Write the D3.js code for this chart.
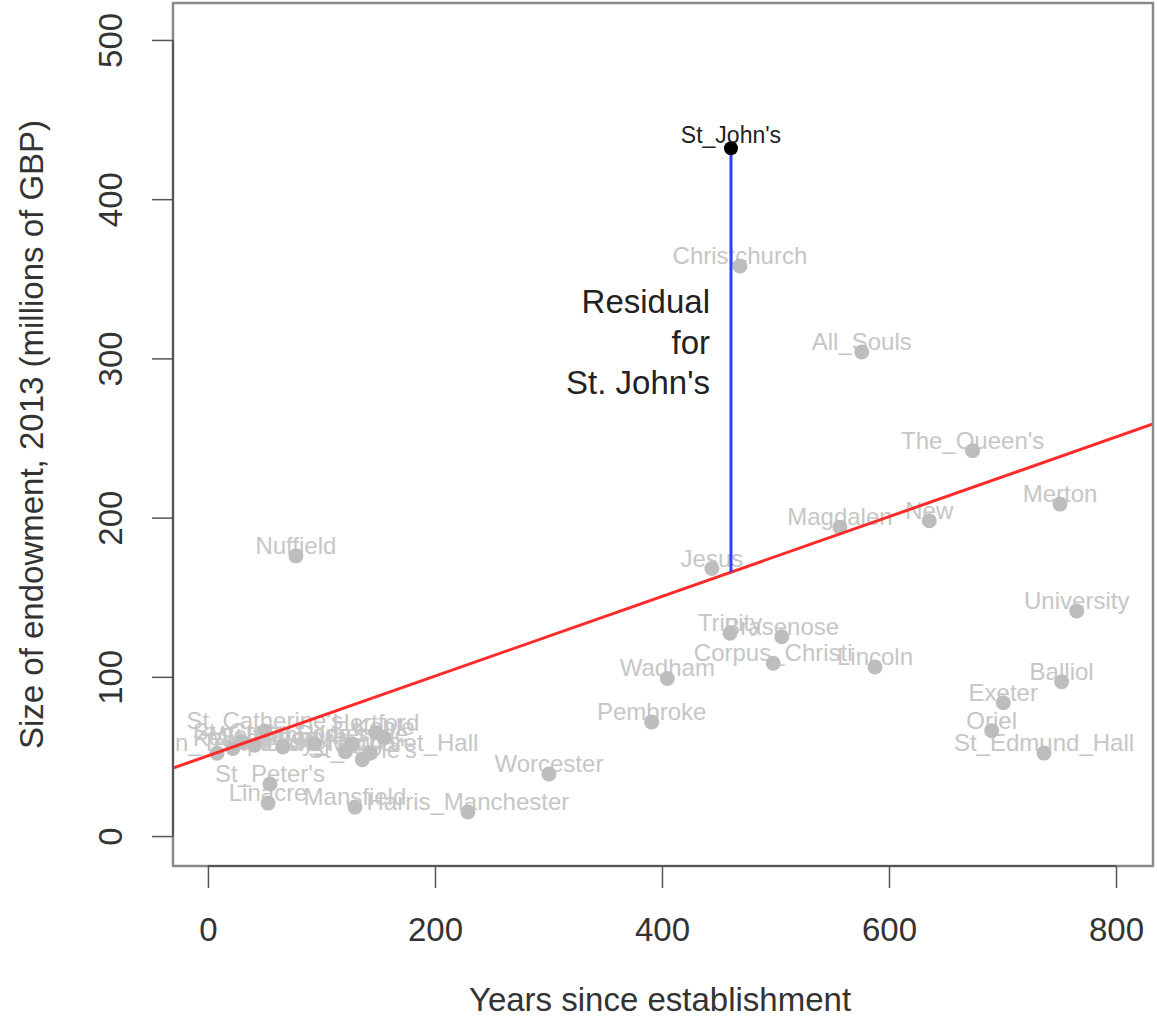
<!DOCTYPE html>
<html><head><meta charset="utf-8">
<script src="https://cdn.jsdelivr.net/npm/d3@7"></script>
<style>
body{margin:0;background:#fff}
text{font-family:"Liberation Sans",Arial,Helvetica,sans-serif}
</style>
</head><body>
<svg id="chart" width="1157" height="1025"></svg>
<script>
// ---- data ----
const colleges = ["Christchurch","All_Souls","The_Queen's","Merton","Magdalen","New","Jesus","Nuffield",
  "University","Trinity","Brasenose","Corpus_Christi","Lincoln","Wadham","Balliol","Exeter","Pembroke",
  "Oriel","St_Edmund_Hall","Worcester","Harris_Manchester","Mansfield","Linacre","St_Peter's",
  "Green_Templeton","Kellogg","St_Cross","Wolfson","St_Catherine's","St_Antony's","St_Hilda's",
  "St_Hugh's","Somerville","St_Anne's","Lady_Margaret_Hall","Hertford","Keble"];
const yearsSince = [468.7,576,673.7,750.7,556.8,635.5,444,77.5,
  765.4,459.9,505.5,498.0,587.7,404.7,752.1,700.7,390.9,
  690.5,736.6,300.4,229,129.5,53,54.6,
  8,22,30,41,50,66,94,
  121,127,136,143,148,155];
const endowment = [358,304,242.0,208.5,194.0,198.0,168,176,
  141.4,127.4,125.2,108.5,106.2,99.0,96.9,83.7,71.7,
  66.2,52.1,39,15.1,18.2,20.7,32.7,
  52,55,59,57,66,56,58,
  53,58,48,52,65,62];

const highlightName = "St_John's";
const highlightYear = 460.8;
const highlightValue = 432;

const fitIntercept = 50.4;
const fitSlope = 0.2503;

const xTicks = [0,200,400,600,800];
const yTicks = [0,100,200,300,400,500];
const xDomain = [-30.8, 832.6];
const yDomain = [-18.8, 523.2];

const xTitle = "Years since establishment";
const yTitle = "Size of endowment, 2013 (millions of GBP)";
const annotationLines = ["Residual","for","St. John's"];
const annotationX = 442.3, annotationY = 328.5;

// ---- layout ----
const L = 173, R = 1153, T = 3, B = 866;
const svg = d3.select("#chart");
svg.append("rect").attr("width",1157).attr("height",1025).attr("fill","#fff");

const x = d3.scaleLinear().domain(xDomain).range([L, R]);
const y = d3.scaleLinear().domain(yDomain).range([B, T]);

svg.append("clipPath").attr("id","plotclip")
  .append("rect").attr("x",L).attr("y",T).attr("width",R-L).attr("height",B-T);

const plot = svg.append("g").attr("clip-path","url(#plotclip)");

const pts = colleges.map((c,i)=>({name:c, yr:yearsSince[i], val:endowment[i]}));

// gray labels
plot.append("g").selectAll("text").data(pts).join("text")
  .attr("x", d=>x(d.yr)).attr("y", d=>y(d.val)-2)
  .attr("text-anchor","middle").attr("font-size",24).attr("fill","#c6c6c6")
  .text(d=>d.name);

// gray points
plot.append("g").selectAll("circle").data(pts).join("circle")
  .attr("cx", d=>x(d.yr)).attr("cy", d=>y(d.val)).attr("r",7.5).attr("fill","#bdbdbd");

// regression line
plot.append("line")
  .attr("x1", x(xDomain[0])).attr("y1", y(fitIntercept + fitSlope*xDomain[0]))
  .attr("x2", x(xDomain[1])).attr("y2", y(fitIntercept + fitSlope*xDomain[1]))
  .attr("stroke","#ff2b2b").attr("stroke-width",3);

// residual line
plot.append("line")
  .attr("x1", x(highlightYear)).attr("y1", y(highlightValue))
  .attr("x2", x(highlightYear)).attr("y2", y(fitIntercept + fitSlope*highlightYear))
  .attr("stroke","#2f3fff").attr("stroke-width",3);

// highlighted label + point
plot.append("text").attr("x", x(highlightYear)).attr("y", y(highlightValue)-5)
  .attr("text-anchor","middle").attr("font-size",23).attr("fill","#222").text(highlightName);
plot.append("circle").attr("cx", x(highlightYear)).attr("cy", y(highlightValue))
  .attr("r",7).attr("fill","#000");

// annotation
const ann = svg.append("g");
annotationLines.forEach((t,i)=>{
  ann.append("text").attr("x", x(annotationX)).attr("y", y(annotationY) + i*40.5)
    .attr("text-anchor","end").attr("font-size",33).attr("fill","#222").text(t);
});

// box
svg.append("rect").attr("x",L).attr("y",T).attr("width",R-L).attr("height",B-T)
  .attr("fill","none").attr("stroke","#8a8a8a").attr("stroke-width",2.5);

// axes
const gx = svg.append("g").attr("transform",`translate(0,${B})`)
  .call(d3.axisBottom(x).tickValues(xTicks).tickSize(22).tickSizeOuter(0).tickPadding(30).tickFormat(d3.format("d")));
gx.select(".domain").remove();
gx.selectAll(".tick line").attr("stroke","#555").attr("stroke-width",1.5);
gx.selectAll(".tick text").attr("font-size",33).attr("fill","#333");
gx.append("line").attr("x1",x(xTicks[0])).attr("x2",x(xTicks[xTicks.length-1]))
  .attr("y1",0).attr("y2",0).attr("stroke","#555").attr("stroke-width",2);

const gy = svg.append("g").attr("transform",`translate(${L},0)`)
  .call(d3.axisLeft(y).tickValues(yTicks).tickSize(21).tickSizeOuter(0).tickFormat(d3.format("d")));
gy.select(".domain").remove();
gy.selectAll(".tick line").attr("stroke","#555").attr("stroke-width",1.5);
gy.selectAll(".tick text").attr("transform","rotate(-90)")
  .attr("x",0).attr("y",-51).attr("dy",0).attr("text-anchor","middle")
  .attr("font-size",33).attr("fill","#333");
gy.append("line").attr("y1",y(yTicks[0])).attr("y2",y(yTicks[yTicks.length-1]))
  .attr("x1",0).attr("x2",0).attr("stroke","#555").attr("stroke-width",2);

// titles
svg.append("text").attr("x",(L+R)/2 - 3).attr("y",1011).attr("text-anchor","middle")
  .attr("font-size",33).attr("fill","#333").text(xTitle);
svg.append("text").attr("transform",`translate(43,${(T+B)/2}) rotate(-90)`)
  .attr("text-anchor","middle").attr("font-size",33).attr("fill","#333").text(yTitle);
</script>
</body></html>
